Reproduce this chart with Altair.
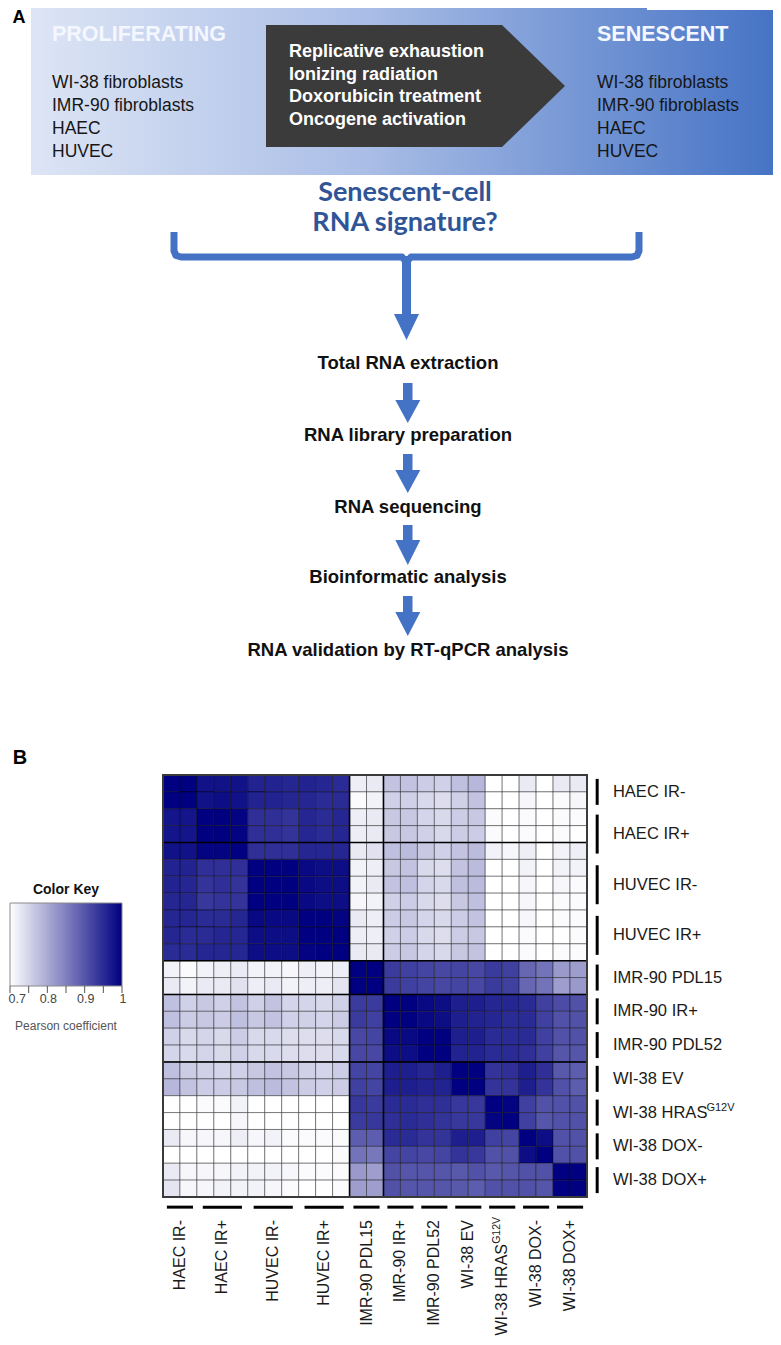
import altair as alt
import pandas as pd

# ---------------- data ----------------
prolif_title = "PROLIFERATING"
senesc_title = "SENESCENT"
cell_lines = ["WI-38 fibroblasts", "IMR-90 fibroblasts", "HAEC", "HUVEC"]
inducers = ["Replicative exhaustion", "Ionizing radiation", "Doxorubicin treatment", "Oncogene activation"]
question = ["Senescent-cell", "RNA signature?"]
steps = ["Total RNA extraction", "RNA library preparation", "RNA sequencing",
         "Bioinformatic analysis", "RNA validation by RT-qPCR analysis"]

groups = ["HAEC IR-", "HAEC IR+", "HUVEC IR-", "HUVEC IR+", "IMR-90 PDL15", "IMR-90 IR+",
          "IMR-90 PDL52", "WI-38 EV", "WI-38 HRAS", "WI-38 DOX-", "WI-38 DOX+"]
group_sup = ["", "", "", "", "", "", "", "", "G12V", "", ""]
group_sizes = [2, 3, 3, 3, 2, 2, 2, 2, 2, 2, 2]

row_seps = [4, 11, 13, 17]
col_seps = [11, 13]

corr = [
 [1.00,1.00,0.98,0.98,0.98,0.96,0.96,0.955,0.96,0.955,0.95,0.72,0.725,0.77,0.77,0.76,0.755,0.775,0.785,0.70,0.70,0.725,0.70,0.725,0.725],
 [1.00,1.00,0.98,0.985,0.98,0.96,0.96,0.955,0.955,0.95,0.95,0.705,0.715,0.755,0.755,0.745,0.74,0.755,0.77,0.70,0.70,0.71,0.70,0.705,0.71],
 [0.975,0.975,1.00,1.00,0.995,0.945,0.945,0.94,0.955,0.95,0.955,0.72,0.725,0.765,0.765,0.75,0.745,0.76,0.765,0.705,0.70,0.705,0.70,0.705,0.705],
 [0.975,0.975,1.00,1.00,0.995,0.945,0.945,0.94,0.955,0.95,0.955,0.72,0.725,0.765,0.765,0.755,0.745,0.76,0.76,0.705,0.70,0.705,0.70,0.705,0.70],
 [0.98,0.98,0.995,0.995,1.00,0.945,0.945,0.945,0.955,0.955,0.955,0.725,0.735,0.775,0.78,0.765,0.755,0.77,0.78,0.715,0.71,0.72,0.70,0.715,0.72],
 [0.96,0.96,0.945,0.945,0.945,1.00,1.00,1.00,0.99,0.985,0.985,0.715,0.72,0.765,0.77,0.745,0.74,0.77,0.78,0.70,0.70,0.715,0.70,0.715,0.715],
 [0.96,0.955,0.94,0.945,0.94,1.00,1.00,1.00,0.99,0.985,0.985,0.715,0.725,0.77,0.775,0.75,0.745,0.775,0.78,0.70,0.70,0.71,0.70,0.71,0.705],
 [0.955,0.955,0.935,0.94,0.94,1.00,1.00,1.00,0.99,0.985,0.985,0.71,0.715,0.755,0.76,0.745,0.74,0.765,0.775,0.70,0.70,0.71,0.70,0.705,0.705],
 [0.955,0.955,0.95,0.95,0.955,0.99,0.99,0.99,1.00,1.00,0.995,0.725,0.72,0.76,0.765,0.75,0.745,0.76,0.77,0.70,0.70,0.71,0.70,0.705,0.705],
 [0.955,0.95,0.95,0.955,0.955,0.985,0.985,0.985,1.00,1.00,1.00,0.72,0.72,0.755,0.76,0.745,0.74,0.76,0.765,0.70,0.70,0.705,0.70,0.70,0.705],
 [0.95,0.95,0.955,0.955,0.955,0.985,0.985,0.985,0.995,1.00,1.00,0.725,0.725,0.76,0.765,0.75,0.745,0.765,0.77,0.70,0.70,0.705,0.70,0.705,0.705],
 [0.715,0.705,0.715,0.72,0.725,0.715,0.715,0.71,0.72,0.715,0.72,1.00,1.00,0.93,0.925,0.92,0.915,0.92,0.915,0.93,0.925,0.88,0.865,0.82,0.815],
 [0.725,0.715,0.725,0.725,0.735,0.72,0.725,0.715,0.72,0.72,0.73,1.00,1.00,0.93,0.925,0.92,0.915,0.92,0.915,0.93,0.925,0.88,0.865,0.815,0.82],
 [0.775,0.755,0.765,0.755,0.77,0.755,0.77,0.75,0.75,0.745,0.755,0.93,0.93,1.00,1.00,0.99,0.985,0.965,0.965,0.955,0.955,0.95,0.925,0.91,0.905],
 [0.775,0.76,0.765,0.76,0.775,0.765,0.77,0.755,0.755,0.75,0.76,0.93,0.925,1.00,1.00,0.99,0.985,0.965,0.96,0.955,0.95,0.95,0.925,0.905,0.905],
 [0.755,0.745,0.75,0.745,0.76,0.745,0.745,0.74,0.74,0.74,0.745,0.915,0.92,0.99,0.99,1.00,1.00,0.965,0.965,0.95,0.95,0.95,0.925,0.905,0.905],
 [0.75,0.745,0.75,0.745,0.755,0.745,0.745,0.74,0.74,0.74,0.745,0.915,0.915,0.985,0.985,1.00,1.00,0.96,0.96,0.95,0.95,0.945,0.925,0.90,0.90],
 [0.775,0.76,0.755,0.75,0.755,0.765,0.77,0.765,0.755,0.75,0.76,0.92,0.92,0.965,0.965,0.955,0.965,1.00,1.00,0.94,0.945,0.965,0.945,0.895,0.89],
 [0.785,0.77,0.76,0.76,0.765,0.775,0.78,0.77,0.76,0.755,0.76,0.925,0.92,0.965,0.965,0.96,0.96,1.00,1.00,0.94,0.94,0.965,0.94,0.905,0.89],
 [0.70,0.70,0.705,0.705,0.715,0.70,0.70,0.70,0.70,0.70,0.70,0.935,0.93,0.95,0.95,0.945,0.945,0.935,0.935,1.00,0.995,0.925,0.905,0.905,0.905],
 [0.70,0.70,0.70,0.70,0.71,0.70,0.70,0.70,0.70,0.70,0.70,0.93,0.935,0.945,0.95,0.945,0.94,0.935,0.935,0.995,1.00,0.925,0.90,0.905,0.905],
 [0.725,0.71,0.71,0.71,0.72,0.71,0.715,0.705,0.705,0.705,0.705,0.89,0.89,0.95,0.95,0.94,0.94,0.965,0.965,0.925,0.92,1.00,0.985,0.905,0.905],
 [0.70,0.70,0.70,0.70,0.70,0.70,0.70,0.70,0.70,0.70,0.705,0.865,0.86,0.92,0.92,0.915,0.92,0.94,0.935,0.905,0.905,0.985,1.00,0.905,0.905],
 [0.725,0.71,0.71,0.71,0.715,0.715,0.715,0.71,0.705,0.705,0.705,0.82,0.815,0.905,0.90,0.90,0.90,0.895,0.905,0.895,0.90,0.905,0.905,1.00,1.00],
 [0.73,0.71,0.71,0.715,0.715,0.715,0.71,0.705,0.70,0.70,0.705,0.815,0.815,0.905,0.90,0.90,0.90,0.895,0.89,0.905,0.905,0.905,0.90,1.00,1.00],
]

key_ticks = [0.70, 0.75, 0.80, 0.85, 0.90, 0.95, 1.00]
key_labels = ["0.7", "0.8", "0.9", "1"]
key_label_vals = [0.7, 0.8, 0.9, 1.0]
key_title = "Color Key"
key_caption = "Pearson coefficient"

# ---------------- layout helpers ----------------
W, H = 765, 1329
BLUE = "#4472c4"
FONT = "Liberation Sans"


def px(f):
    return alt.X(f, type="quantitative", axis=None,
                 scale=alt.Scale(domain=[8, 773], range=[0, W], nice=False, zero=False))


def py(f):
    return alt.Y(f, type="quantitative", axis=None,
                 scale=alt.Scale(domain=[8, 1337], range=[0, H], nice=False, zero=False))


# heatmap unit scales (cells)
HX = [155, 579]
HY = [767, 1189]
CELL_Y = (HY[1] - HY[0]) / 25.0


def ux(f):
    return alt.X(f, type="quantitative", axis=None,
                 scale=alt.Scale(domain=[0, 25], range=HX, nice=False, zero=False))


def uy(f):
    return alt.Y(f, type="quantitative", axis=None,
                 scale=alt.Scale(domain=[0, 25], range=HY, nice=False, zero=False))


KEY_RANGE = [2, 114]


def kx(f):
    return alt.X(f, type="quantitative", axis=None,
                 scale=alt.Scale(domain=[0.7, 1.0], range=KEY_RANGE, nice=False, zero=False))


def ptext(df, **mk):
    return alt.Chart(df).mark_text(**mk).encode(x=px("x"), y=py("y"), text="t:N")


layers = []

# ---------------- panel A ----------------
box = alt.Chart(pd.DataFrame({"x": [31], "x2": [781], "y": [0], "y2": [175]})).mark_rect(
    fill=alt.Gradient(gradient="linear",
                      stops=[alt.GradientStop(color="#dde5f5", offset=0),
                             alt.GradientStop(color="#a9bde6", offset=0.45),
                             alt.GradientStop(color="#4472c4", offset=1)],
                      x1=0, x2=1, y1=0, y2=0)
).encode(x=px("x"), x2=alt.X2("x2"), y=py("y"), y2=alt.Y2("y2"))
layers.append(box)

topbar = alt.Chart(pd.DataFrame({"x": [647], "x2": [781], "y": [0], "y2": [10]})).mark_rect(
    color="white").encode(x=px("x"), x2=alt.X2("x2"), y=py("y"), y2=alt.Y2("y2"))
layers.append(topbar)

pent = alt.Chart(pd.DataFrame({"x": [266, 502, 565], "y": [25, 25, 86], "y2": [147, 147, 86]})).mark_area(
    color="#3b3b3b", orient="vertical", interpolate="linear").encode(
    x=px("x"), y=py("y"), y2=alt.Y2("y2"))
layers.append(pent)

layers.append(ptext(pd.DataFrame({"x": [19], "y": [23], "t": ["A"]}),
                    font=FONT, fontSize=18, fontWeight="bold", color="black",
                    align="center", baseline="alphabetic"))
layers.append(ptext(pd.DataFrame({"x": [52, 597], "y": [35, 35], "t": [prolif_title, senesc_title]}),
                    font=FONT, fontSize=21.5, fontWeight="bold", color="#f4f7ff",
                    align="left", baseline="middle"))
list_y = [83, 106, 128.5, 152]
layers.append(ptext(pd.DataFrame({"x": [52] * 4 + [597] * 4, "y": list_y * 2, "t": cell_lines * 2}),
                    font=FONT, fontSize=17.5, color="#161616", align="left", baseline="middle"))
layers.append(ptext(pd.DataFrame({"x": [289] * 4, "y": [52, 74.5, 97, 119.5], "t": inducers}),
                    font=FONT, fontSize=18, fontWeight="bold", color="white",
                    align="left", baseline="middle"))

layers.append(ptext(pd.DataFrame({"x": [405, 405], "y": [193, 223], "t": question}),
                    font="Lato", fontSize=27, fontWeight="bold", color="#2f5597",
                    align="center", baseline="middle"))

brace_df = pd.DataFrame({
    "side": ["L"] * 6 + ["R"] * 6,
    "o": list(range(6)) * 2,
    "x": [174, 174, 176, 181, 402, 406.5, 639, 639, 637, 632, 411, 406.5],
    "y": [232, 251, 255.5, 257, 257, 262, 232, 251, 255.5, 257, 257, 262],
})
layers.append(alt.Chart(brace_df).mark_line(color=BLUE, strokeWidth=7, strokeCap="butt",
                                            strokeJoin="round").encode(
    x=px("x"), y=py("y"), detail="side:N", order="o:Q"))

stems = pd.DataFrame({"x": [402, 403, 403, 403, 403], "x2": [411, 412.5, 412.5, 412.5, 412.5],
                      "y": [256, 383, 454, 525, 596], "y2": [315, 401, 471, 541, 613]})
layers.append(alt.Chart(stems).mark_rect(color=BLUE).encode(
    x=px("x"), x2=alt.X2("x2"), y=py("y"), y2=alt.Y2("y2")))

heads = []
for i, (cx, top, tip) in enumerate([(406.5, 314, 340), (407.8, 400, 423),
                                    (407.8, 470, 493), (407.8, 540, 565), (407.8, 612, 636)]):
    for dxh, yy2 in [(-12.5, top), (0, tip), (12.5, top)]:
        heads.append({"k": i, "x": cx + dxh, "y": top, "y2": yy2})
layers.append(alt.Chart(pd.DataFrame(heads)).mark_area(color=BLUE, orient="vertical",
                                                       interpolate="linear").encode(
    x=px("x"), y=py("y"), y2=alt.Y2("y2"), detail="k:N"))

layers.append(ptext(pd.DataFrame({"x": [408] * 5, "y": [363, 435, 507, 577, 650], "t": steps}),
                    font=FONT, fontSize=18.5, fontWeight="bold", color="#111111",
                    align="center", baseline="middle"))

# ---------------- panel B ----------------
layers.append(ptext(pd.DataFrame({"x": [20], "y": [758], "t": ["B"]}),
                    font=FONT, fontSize=20, fontWeight="bold", color="black",
                    align="center", baseline="middle"))

cells = pd.DataFrame([{"r": r, "c": c, "v": v} for r, row in enumerate(corr) for c, v in enumerate(row)])
heat = alt.Chart(cells).mark_rect(stroke="black", strokeWidth=0.8, strokeOpacity=0.5).encode(
    x=alt.X("c:O", axis=None, scale=alt.Scale(domain=list(range(25)), range=HX,
                                              paddingInner=0, paddingOuter=0)),
    y=alt.Y("r:O", axis=None, scale=alt.Scale(domain=list(range(25)), range=HY,
                                              paddingInner=0, paddingOuter=0)),
    color=alt.Color("v:Q", legend=None,
                    scale=alt.Scale(domain=[0.7, 1.0], range=["#ffffff", "#000080"],
                                    clamp=True, interpolate="rgb")),
)
layers.append(heat)

hs = pd.DataFrame({"y": row_seps, "x": [0] * len(row_seps), "x2": [25] * len(row_seps)})
layers.append(alt.Chart(hs).mark_rule(color="black", strokeWidth=1.6).encode(
    x=ux("x"), x2=alt.X2("x2"), y=uy("y")))
vs = pd.DataFrame({"x": col_seps, "y": [0] * len(col_seps), "y2": [25] * len(col_seps)})
layers.append(alt.Chart(vs).mark_rule(color="black", strokeWidth=1.6).encode(
    x=ux("x"), y=uy("y"), y2=alt.Y2("y2")))
layers.append(alt.Chart(pd.DataFrame({"x": [0], "x2": [25], "y": [0], "y2": [25]})).mark_rect(
    fillOpacity=0, stroke="#3a3a3a", strokeWidth=2).encode(
    x=ux("x"), x2=alt.X2("x2"), y=uy("y"), y2=alt.Y2("y2")))

starts = []
s = 0
for n in group_sizes:
    starts.append(s)
    s += n
gdf = pd.DataFrame({
    "g": groups,
    "sup": group_sup,
    "c": [st + n / 2 for st, n in zip(starts, group_sizes)],
    "a": [st + n / 2 - 0.385 * n for st, n in zip(starts, group_sizes)],
    "b": [st + n / 2 + 0.385 * n for st, n in zip(starts, group_sizes)],
})
top_units = (1220 - 775) / CELL_Y          # top of the rotated labels
sup_units = (1217 - 775) / CELL_Y          # top of the rotated superscript
hras_units = (1244 - 775) / CELL_Y         # top of the label carrying a superscript
gdf["bar"] = 25.6
gdf["lab_x"] = 26.53
gdf["lab_top"] = [hras_units if sp else top_units for sp in group_sup]
gdf["sup_x"] = 26.53 + 93.5 / 16.96
gdf["sup_top"] = sup_units
gdf["c_up"] = gdf["c"] - 0.3

layers.append(alt.Chart(gdf).mark_rule(color="black", strokeWidth=3).encode(
    x=ux("bar"), y=uy("a"), y2=alt.Y2("b")))
layers.append(alt.Chart(gdf).mark_rule(color="black", strokeWidth=3).encode(
    x=ux("a"), x2=alt.X2("b"), y=uy("bar")))

layers.append(alt.Chart(gdf).mark_text(font=FONT, fontSize=16.5, color="#1a1a1a", align="left",
                                       baseline="middle").encode(
    x=ux("lab_x"), y=uy("c"), text="g:N"))
layers.append(alt.Chart(gdf).mark_text(font=FONT, fontSize=16, color="#1a1a1a", align="right",
                                       baseline="middle", angle=270).encode(
    x=ux("c"), y=uy("lab_top"), text="g:N"))
sdf = gdf[gdf["sup"] != ""]
layers.append(alt.Chart(sdf).mark_text(font=FONT, fontSize=11, color="#1a1a1a", align="left",
                                       baseline="middle").encode(
    x=ux("sup_x"), y=uy("c_up"), text="sup:N"))
layers.append(alt.Chart(sdf).mark_text(font=FONT, fontSize=10.5, color="#1a1a1a", align="right",
                                       baseline="middle", angle=270).encode(
    x=ux("c_up"), y=uy("sup_top"), text="sup:N"))

# ---------------- color key ----------------
layers.append(ptext(pd.DataFrame({"x": [66], "y": [890], "t": [key_title]}),
                    font=FONT, fontSize=14, fontWeight="bold", color="#111111",
                    align="center", baseline="middle"))
layers.append(alt.Chart(pd.DataFrame({"x": [0.7], "x2": [1.0], "y": [903], "y2": [986]})).mark_rect(
    fill=alt.Gradient(gradient="linear",
                      stops=[alt.GradientStop(color="#ffffff", offset=0),
                             alt.GradientStop(color="#000080", offset=1)],
                      x1=0, x2=1, y1=0, y2=0),
    stroke="#8a8a8a", strokeWidth=1).encode(
    x=kx("x"), x2=alt.X2("x2"), y=py("y"), y2=alt.Y2("y2")))
tk = pd.DataFrame({"x": key_ticks, "y": [986] * len(key_ticks), "y2": [993] * len(key_ticks)})
layers.append(alt.Chart(tk).mark_rule(color="#555555", strokeWidth=1).encode(
    x=kx("x"), y=py("y"), y2=alt.Y2("y2")))
kl = pd.DataFrame({"x": key_label_vals[1:], "y": [999] * 3, "t": key_labels[1:]})
layers.append(alt.Chart(kl).mark_text(font=FONT, fontSize=12.5, color="#444444", align="center",
                                      baseline="middle", dx=1).encode(x=kx("x"), y=py("y"), text="t:N"))
kl0 = pd.DataFrame({"x": key_label_vals[:1], "y": [999], "t": key_labels[:1]})
layers.append(alt.Chart(kl0).mark_text(font=FONT, fontSize=12.5, color="#444444", align="left",
                                       baseline="middle", dx=-1.5).encode(x=kx("x"), y=py("y"), text="t:N"))
layers.append(ptext(pd.DataFrame({"x": [66], "y": [1026], "t": [key_caption]}),
                    font=FONT, fontSize=12, color="#555555", align="center", baseline="middle"))

chart = alt.layer(*layers).properties(
    width=W, height=H, padding=0, autosize=alt.AutoSizeParams(type="none")
).resolve_scale(x="independent", y="independent", color="independent").configure_view(stroke=None)

chart.save("out.html", embed_options={"renderer": "svg", "actions": False})
